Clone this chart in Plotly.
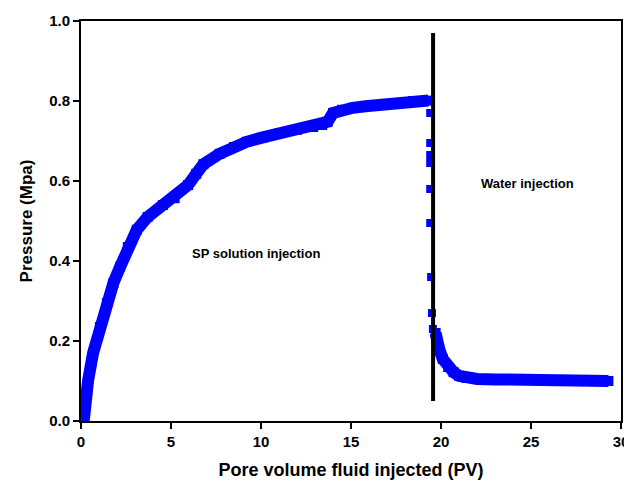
import plotly.graph_objects as go

# SP solution injection phase
sp_x = [0.15, 0.22, 0.39, 0.67, 1.05, 1.44, 1.8, 2.17, 2.6, 3.1, 3.7, 4.55, 5.2, 5.95,
        6.4, 6.8, 7.7, 8.5, 9.2, 10.1, 11.05, 12.0, 12.9, 13.4, 13.7, 14.0, 14.5, 15.1,
        15.8, 16.6, 17.5, 18.45, 19.3]
sp_y = [0.00, 0.035, 0.10, 0.17, 0.235, 0.295, 0.345, 0.385, 0.435, 0.478, 0.51, 0.54,
        0.557, 0.59, 0.618, 0.642, 0.668, 0.685, 0.698, 0.709, 0.72, 0.728, 0.735, 0.74,
        0.748, 0.77, 0.778, 0.783, 0.787, 0.79, 0.795, 0.80, 0.801]

# transition points
drop_x = [19.4, 19.4, 19.4, 19.4, 19.4, 19.4, 19.45, 19.5, 19.55]
drop_y = [0.77, 0.695, 0.665, 0.645, 0.58, 0.495, 0.36, 0.27, 0.23]

# Water injection phase
wt_x = [19.7, 19.75, 19.9, 20.1, 20.4, 20.7, 21.0, 21.4, 22.0, 23.0, 24.0, 25.0, 26.0,
        27.0, 28.0, 29.3]
wt_y = [0.22, 0.20, 0.18, 0.155, 0.135, 0.122, 0.113, 0.108, 0.105, 0.104, 0.103, 0.103,
        0.100, 0.100, 0.100, 0.100]

divider_x = 19.56
divider_y = [0.05, 0.97]

blue = "#0000FF"
fig = go.Figure()
fig.add_trace(go.Scatter(x=sp_x, y=sp_y, mode="lines+markers",
                         line=dict(color=blue, width=12),
                         marker=dict(symbol="square", size=10, color=blue)))
fig.add_trace(go.Scatter(x=drop_x, y=drop_y, mode="markers",
                         marker=dict(symbol="square", size=8, color=blue)))
fig.add_trace(go.Scatter(x=wt_x, y=wt_y, mode="lines+markers",
                         line=dict(color=blue, width=12),
                         marker=dict(symbol="square", size=10, color=blue)))
fig.add_trace(go.Scatter(x=[divider_x, divider_x], y=divider_y, mode="lines",
                         line=dict(color="black", width=4)))

fig.add_annotation(x=9.7, y=0.42, text="<b>SP solution injection</b>", showarrow=False,
                   font=dict(family="Liberation Sans", size=13, color="black"))
fig.add_annotation(x=24.8, y=0.595, text="<b>Water injection</b>", showarrow=False,
                   font=dict(family="Liberation Sans", size=13, color="black"))

axis_font = dict(family="Liberation Sans", size=15, color="black")
fig.update_layout(
    width=624, height=473,
    margin=dict(l=73, r=11, t=13, b=60),
    paper_bgcolor="white", plot_bgcolor="white",
    showlegend=False,
    font=dict(family="Liberation Sans", color="black"),
    xaxis=dict(range=[0, 30], tickvals=[0, 5, 10, 15, 20, 25, 30],
               ticktext=["<b>0</b>", "<b>5</b>", "<b>10</b>", "<b>15</b>", "<b>20</b>", "<b>25</b>", "<b>30</b>"],
               ticks="outside", ticklen=6, tickwidth=2, tickcolor="black",
               showline=True, linecolor="black", linewidth=2, mirror=True,
               showgrid=False, zeroline=False, tickfont=axis_font, automargin=False,
               title=dict(text="<b>Pore volume fluid injected (PV)</b>",
                          font=dict(family="Liberation Sans", size=18, color="black"), standoff=14)),
    yaxis=dict(range=[0, 1.0], tickvals=[0, 0.2, 0.4, 0.6, 0.8, 1.0],
               ticktext=["<b>0.0</b>", "<b>0.2</b>", "<b>0.4</b>", "<b>0.6</b>", "<b>0.8</b>", "<b>1.0</b>"],
               ticks="outside", ticklen=6, tickwidth=2, tickcolor="black",
               showline=True, linecolor="black", linewidth=2, mirror=True,
               showgrid=False, zeroline=False, tickfont=axis_font, automargin=False,
               title=dict(text="<b>Pressure (Mpa)</b>",
                          font=dict(family="Liberation Sans", size=17, color="black"), standoff=12)),
)

fig.write_html("out.html")
